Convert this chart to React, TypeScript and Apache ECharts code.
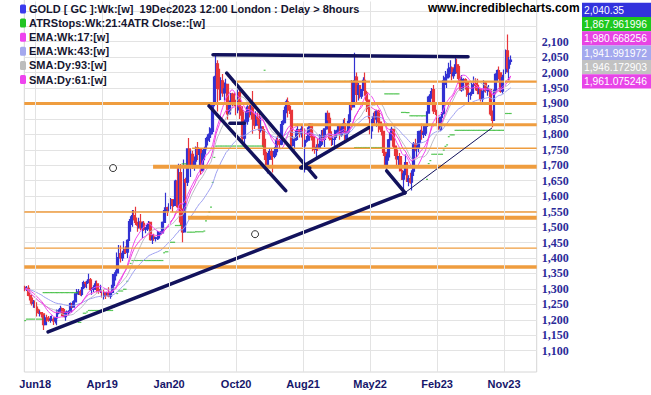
import React, { useEffect, useRef } from "react";
import * as echarts from "echarts";

// Weekly GOLD [GC] bars, week of 28 May 2018 .. week of 18 Dec 2023 : [close, high, low]
const firstOpen = 1305;
const bars2018 = [[1299,1310,1292],[1302,1309,1293],[1279,1312,1276],[1270,1282,1262],[1254,1272,1246],[1255,1264,1239],[1241,1262,1238],[1231,1247,1211],[1223,1236,1219],[1223,1230,1211],[1219,1224,1207],[1184,1220,1167],[1206,1215,1182],[1205,1216,1193],[1199,1212,1194],[1201,1212,1190],[1201,1214,1196],[1196,1208,1183],[1206,1209,1188],[1222,1233,1182],[1229,1234,1218],[1236,1245,1223],[1233,1240,1212],[1210,1238,1208],[1223,1227,1197],[1223,1230,1214],[1226,1231,1214],[1252,1256,1224],[1241,1254,1238],[1258,1263,1240],[1284,1285,1256],[1287,1300,1281]];
const bars2019 = [[1290,1300,1280],[1282,1297,1278],[1304,1306,1276],[1320,1326,1300],[1318,1324,1305],[1323,1326,1302],[1329,1349,1318],[1298,1335,1293],[1299,1302,1281],[1303,1312,1290],[1316,1326,1296],[1298,1327,1288],[1295,1300,1284],[1295,1313,1287],[1276,1295,1272],[1287,1290,1266],[1281,1290,1267],[1288,1291,1278],[1277,1305,1273],[1289,1290,1268],[1311,1313,1275],[1346,1348,1306],[1352,1360,1327],[1401,1418,1341],[1414,1442,1388],[1400,1440,1385],[1415,1423,1390],[1427,1454,1410],[1419,1438,1413],[1457,1461,1400],[1509,1520,1454],[1524,1535,1485],[1537,1555,1501],[1529,1555,1522],[1515,1566,1507],[1506,1516,1485],[1516,1530,1495],[1497,1542,1490],[1512,1518,1465],[1493,1520,1487],[1494,1500,1480],[1505,1512,1487],[1515,1520,1495],[1459,1517,1456],[1468,1475,1445],[1463,1478,1456],[1465,1469,1453],[1465,1487,1458],[1481,1486,1460],[1481,1487,1475],[1515,1518,1480],[1553,1555,1513]];
const bars2020 = [[1562,1611,1547],[1560,1566,1536],[1571,1577,1550],[1589,1594,1565],[1570,1591,1548],[1586,1588,1566],[1649,1653,1584],[1566,1691,1562],[1676,1705,1566],[1517,1704,1505],[1484,1560,1451],[1654,1719,1482],[1645,1660,1578],[1753,1755,1633],[1698,1788,1693],[1735,1747,1662],[1700,1747,1688],[1713,1728,1682],[1756,1761,1695],[1735,1775,1717],[1751,1754,1700],[1683,1756,1670],[1737,1750,1683],[1753,1760,1716],[1781,1788,1746],[1790,1800,1764],[1801,1823,1775],[1810,1820,1793],[1897,1898,1800],[1985,1990,1891],[2028,2058,1960],[1949,2040,1874],[1947,2012,1910],[1973,1985,1911],[1934,1995,1922],[1947,1968,1910],[1962,1980,1938],[1866,1964,1848],[1900,1910,1864],[1930,1934,1877],[1906,1935,1891],[1905,1935,1892],[1879,1912,1862],[1935,1945,1868],[1889,1950,1850],[1872,1898,1860],[1788,1876,1776],[1840,1848,1765],[1843,1875,1825],[1888,1894,1831],[1883,1906,1855],[1895,1900,1862]];
const bars2021 = [[1850,1940,1802],[1830,1866,1817],[1856,1875,1826],[1850,1871,1832],[1814,1875,1785],[1824,1855,1806],[1784,1826,1760],[1734,1817,1717],[1700,1744,1687],[1720,1740,1673],[1744,1755,1717],[1733,1756,1717],[1729,1740,1677],[1744,1759,1723],[1780,1790,1732],[1777,1797,1764],[1768,1785,1756],[1832,1843,1765],[1838,1846,1809],[1877,1890,1835],[1905,1913,1868],[1891,1919,1855],[1878,1903,1866],[1764,1880,1761],[1781,1795,1761],[1784,1790,1750],[1811,1818,1779],[1815,1834,1795],[1802,1816,1790],[1817,1833,1790],[1763,1832,1759],[1780,1783,1677],[1781,1795,1773],[1819,1823,1776],[1833,1836,1805],[1792,1835,1780],[1752,1810,1745],[1751,1787,1737],[1758,1768,1721],[1757,1785,1746],[1768,1800,1752],[1796,1814,1762],[1784,1815,1776],[1818,1820,1759],[1868,1870,1815],[1852,1877,1845],[1788,1860,1780],[1784,1810,1762],[1784,1795,1766],[1805,1815,1753],[1811,1815,1788],[1829,1832,1800]];
const bars2022 = [[1797,1832,1783],[1817,1830,1792],[1835,1848,1805],[1786,1853,1780],[1807,1812,1781],[1842,1865,1801],[1900,1905,1847],[1889,1976,1878],[1970,1975,1890],[1985,2064,1965],[1929,2000,1895],[1958,1966,1910],[1924,1960,1916],[1945,1947,1915],[1975,1985,1940],[1934,2000,1925],[1911,1941,1872],[1883,1909,1851],[1811,1884,1800],[1846,1850,1786],[1857,1870,1836],[1850,1875,1829],[1875,1878,1825],[1840,1880,1806],[1830,1848,1815],[1810,1835,1796],[1742,1812,1730],[1703,1745,1696],[1727,1738,1681],[1782,1785,1715],[1791,1807,1755],[1816,1825,1788],[1762,1818,1755],[1749,1768,1730],[1721,1750,1700],[1728,1730,1696],[1683,1740,1680],[1655,1690,1652],[1672,1682,1615],[1709,1735,1668],[1648,1710,1646],[1656,1668,1632],[1645,1676,1640],[1681,1684,1618],[1769,1775,1665],[1754,1786,1745],[1755,1762,1727],[1809,1812,1742],[1810,1815,1772],[1800,1834,1783],[1804,1833,1788],[1826,1833,1795]];
const bars2023 = [[1869,1875,1825],[1921,1925,1867],[1928,1940,1900],[1945,1950,1915],[1876,1960,1866],[1874,1895,1863],[1850,1880,1832],[1817,1854,1815],[1855,1858,1810],[1867,1872,1813],[1973,1990,1864],[1983,2005,1960],[1986,1996,1950],[2011,2032,1985],[2015,2040,1995],[1990,2020,1975],[1999,2012,1980],[2025,2054,1995],[2019,2045,2000],[1981,2025,1965],[1944,1987,1940],[1969,1992,1938],[1977,1982,1955],[1970,1982,1945],[1929,1975,1922],[1929,1935,1900],[1933,1938,1912],[1960,1967,1925],[1964,1987,1958],[1959,1982,1942],[1942,1980,1930],[1946,1950,1930],[1915,1948,1906],[1940,1942,1902],[1966,1975,1934],[1942,1970,1935],[1945,1955,1925],[1945,1960,1938],[1866,1948,1860],[1845,1877,1823],[1941,1945,1845],[1994,1998,1930],[2006,2010,1970],[1999,2020,1978],[1940,2000,1935],[1984,1993,1932],[2003,2010,1975],[2070,2075,1995],[2014,2123,2000],[2036,2050,1975],[2040,2055,2025]];

// axis
const slotCount = 306; // weekly slots on the time axis (bars + empty right margin)
const xTickIndex = [6, 46, 86, 126, 166, 206, 246, 286];
const xTickLabels = ["Jun18", "Apr19", "Jan20", "Oct20", "Aug21", "May22", "Feb23", "Nov23"];
const yLabelValues = [1100,1150,1200,1250,1300,1350,1400,1450,1500,1550,1600,1650,1700,1750,1800,1850,1900,1950,2000,2050,2100];
const yGridValues = [1100,1150,1200,1250,1300,1350,1400,1450,1500,1550,1600,1650,1700,1750,1800,1850,1900,1950,2000,2050,2100,2150,2200];
const yMin = 1031;
const yMax = 2230;

// indicators
const emaFast = 17;
const emaSlow = 43;
const smaDays93 = 93;
const smaDays61 = 61;
const atrPeriod = 21;
const atrMult = 4;

// horizontal support / resistance levels: [price, first week index]
const levels = [[1971, 123.5], [1900, -0.5], [1831, 160], [1755, 99.7], [1695, 76.4], [1549, -0.5], [1530, 97.2], [1432, -0.5], [1371, -0.5]];
// trend lines: [[week, price], [week, price]]
const trendLines = [
  [[112.2, 2058], [264.5, 2051]],
  [[13.7, 1161], [226.8, 1611]],
  [[120.4, 1998], [173.5, 1661]],
  [[109.8, 1892], [155.6, 1618]],
  [[122.3, 1836], [130.9, 1836]],
  [[164.7, 1693], [205.4, 1822]],
  [[164.7, 1691], [170.0, 1691]],
  [[215.9, 1682], [226.9, 1611]],
];
const thinLines = [[[226.8, 1611], [278.8, 1821]]];
const circleMarks = [[52.5, 1691], [137.3, 1477]];

// legend & value boxes
const legendTexts = [
  "GOLD [ GC ]:Wk:[w]  19Dec2023 12:00 London : Delay > 8hours",
  "ATRStops:Wk:21:4ATR Close::[w]",
  "EMA:Wk:17:[w]",
  "EMA:Wk:43:[w]",
  "SMA:Dy:93:[w]",
  "SMA:Dy:61:[w]",
];
const boxTexts = ["2,040.35", "1,867.961996", "1,980.668256", "1,941.991972", "1,946.172903", "1,961.075246"];

// styles
const colors = {
  up: "#3232d2",
  down: "#e8363b",
  stop: "#2cb82c",
  ema17: "#ee44dd",
  ema43: "#9ea0f0",
  sma93: "#bcbcc6",
  sma61: "#f04cf0",
  orange: "#ef9d3f",
  navy: "#12125c",
  grid: "#e3e3e3",
  border: "#d6d6d6",
};
const legendColors = ["#3a3aee", "#22c422", "#ee44ee", "#a4a8ee", "#bdbdbd", "#ee44ee"];
const boxColors = ["#3333dd", "#1ec81e", "#e844e4", "#a4a8ee", "#c2c2c2", "#e844e8"];
const levelWidths = [2.2, 3, 3, 1.4, 4, 1.4, 4, 1.4, 3.5];
const SANS = "Liberation Sans";

function buildOption() {
  const bars = [...bars2018, ...bars2019, ...bars2020, ...bars2021, ...bars2022, ...bars2023];
  const closes = bars.map((b) => b[0]);
  const highs = bars.map((b) => b[1]);
  const lows = bars.map((b) => b[2]);
  const opens = closes.map((c, i) => (i === 0 ? firstOpen : closes[i - 1]));
  const candleData = bars.map((b, i) => [opens[i], b[0], b[2], b[1]]);

  const ema = (src: number[], n: number) => {
    const k = 2 / (n + 1);
    let e = src[0];
    return src.map((v, i) => (i === 0 ? e : (e = v * k + e * (1 - k))));
  };
  const sma = (src: number[], n: number) =>
    src.map((_, i) => {
      const s = src.slice(Math.max(0, i - n + 1), i + 1);
      return s.reduce((a, b) => a + b, 0) / s.length;
    });

  const tr = closes.map((c, i) =>
    i === 0 ? highs[0] - lows[0] : Math.max(highs[i], closes[i - 1]) - Math.min(lows[i], closes[i - 1])
  );
  let atr = tr.slice(0, atrPeriod).reduce((a, b) => a + b, 0) / atrPeriod;
  let up = true;
  let stop = closes[0] - atrMult * atr;
  const stops: number[] = [];
  closes.forEach((c, i) => {
    if (i > 0) atr = (atr * (atrPeriod - 1) + tr[i]) / atrPeriod;
    if (up) {
      if (c < stop) { up = false; stop = c + atrMult * atr; }
      else stop = Math.max(stop, c - atrMult * atr);
    } else {
      if (c > stop) { up = true; stop = c - atrMult * atr; }
      else stop = Math.min(stop, c + atrMult * atr);
    }
    stops.push(stop);
  });

  const w93 = Math.round(smaDays93 / 5);
  const w61 = Math.round(smaDays61 / 5);
  const maLine = (data: number[], color: string) => ({
    type: "line",
    data: data.map((v) => Math.round(v * 100) / 100),
    showSymbol: false,
    symbol: "none",
    lineStyle: { color, width: 1 },
    silent: true,
  });

  const slots = Array.from({ length: slotCount }, (_, i) => String(i));

  const series: any[] = [
    {
      type: "line",
      xAxisIndex: 1,
      data: [],
      silent: true,
      markLine: {
        silent: true,
        symbol: ["none", "none"],
        label: { show: false },
        lineStyle: { color: colors.grid, width: 1, type: "solid" },
        data: xTickIndex.map((i) => ({ xAxis: i })),
      },
    },
    {
      type: "candlestick",
      data: candleData,
      barWidth: 2.3,
      itemStyle: { color: colors.up, color0: colors.down, borderColor: colors.up, borderColor0: colors.down, borderWidth: 1.2 },
      silent: true,
    },
    maLine(sma(closes, w93), colors.sma93),
    maLine(ema(closes, emaSlow), colors.ema43),
    maLine(sma(closes, w61), colors.sma61),
    maLine(ema(closes, emaFast), colors.ema17),
    ...levels.map((l, i) => ({
      type: "line",
      xAxisIndex: 1,
      data: [[l[1], l[0]], [slotCount - 0.5, l[0]]],
      showSymbol: false,
      symbol: "none",
      lineStyle: { color: colors.orange, width: levelWidths[i] },
      silent: true,
    })),
    {
      type: "scatter",
      xAxisIndex: 1,
      data: stops.map((v, i) => [i, Math.round(v * 100) / 100]),
      symbol: "rect",
      symbolSize: [1.9, 1.2],
      itemStyle: { color: colors.stop },
      silent: true,
    },
    ...trendLines.map((ln) => ({
      type: "line",
      xAxisIndex: 1,
      data: ln,
      showSymbol: false,
      symbol: "none",
      lineStyle: { color: colors.navy, width: 3.5, cap: "round" },
      silent: true,
    })),
    ...thinLines.map((ln) => ({
      type: "line",
      xAxisIndex: 1,
      data: ln,
      showSymbol: false,
      symbol: "none",
      lineStyle: { color: colors.navy, width: 1 },
      silent: true,
    })),
    {
      type: "scatter",
      xAxisIndex: 1,
      data: circleMarks,
      symbol: "circle",
      symbolSize: 7,
      itemStyle: { color: "#ffffff", borderColor: "#000000", borderWidth: 1 },
      silent: true,
    },
  ];

  const left = 24.3, right = 536.7, bottom = 372;
  const graphic: any[] = [
    { type: "line", shape: { x1: left, y1: 0, x2: left, y2: bottom }, style: { stroke: colors.border, lineWidth: 1 } },
    { type: "line", shape: { x1: left, y1: bottom, x2: right, y2: bottom }, style: { stroke: colors.border, lineWidth: 1 } },
    { type: "line", shape: { x1: right, y1: 0, x2: right, y2: bottom }, style: { stroke: colors.border, lineWidth: 1 } },
    ...legendTexts.map((_, i) => ({
      type: "rect",
      z: 100,
      shape: { x: 20, y: 4.5 + i * 14.1, width: 6, height: 9, r: 1.5 },
      style: { fill: legendColors[i] },
    })),
    ...legendTexts.map((t, i) => ({
      type: "text",
      z: 100,
      x: 29,
      y: 9 + i * 14.1,
      style: { text: t, fill: "#161630", fontFamily: SANS, fontWeight: "bold", fontSize: 11, verticalAlign: "middle" },
    })),
    {
      type: "text",
      z: 100,
      x: 428,
      y: 8,
      style: { text: "www.incrediblecharts.com", fill: "#000000", fontFamily: SANS, fontWeight: "bold", fontSize: 12, verticalAlign: "middle" },
    },
    ...boxTexts.map((_, i) => ({
      type: "rect",
      z: 100,
      shape: { x: 582, y: 2.7 + i * 14.3, width: 70, height: 14.3 },
      style: { fill: boxColors[i] },
    })),
    ...boxTexts.map((t, i) => ({
      type: "text",
      z: 101,
      x: 584,
      y: 2.7 + i * 14.3 + 7.4,
      style: { text: t, fill: "#ffffff", fontFamily: SANS, fontSize: 10.3, verticalAlign: "middle" },
    })),
  ];

  return {
    animation: false,
    backgroundColor: "#ffffff",
    grid: { left: left, right: 651 - right, top: 1.5, bottom: 395 - bottom, outerBoundsMode: "none", containLabel: false },
    xAxis: [
      {
        type: "category",
        data: slots,
        boundaryGap: true,
        axisLine: { show: false },
        axisTick: { show: false },
        splitLine: { show: false },
        axisLabel: {
          interval: (i: number) => xTickIndex.indexOf(i) >= 0,
          formatter: (v: string) => {
            const k = xTickIndex.indexOf(Number(v));
            return k >= 0 ? xTickLabels[k] : "";
          },
          color: "#16166a",
          fontFamily: SANS,
          fontWeight: "bold",
          fontSize: 11,
          margin: 6,
        },
      },
      { type: "value", min: -0.5, max: slotCount - 0.5, show: false, splitLine: { show: false } },
    ],
    yAxis: {
      type: "value",
      position: "right",
      min: yMin,
      max: yMax,
      axisLine: { show: false },
      axisTick: { show: false, customValues: yGridValues },
      axisLabel: {
        customValues: yLabelValues,
        formatter: (v: number) => v.toLocaleString("en-US"),
        color: "#2b2b99",
        fontFamily: "Liberation Serif",
        fontWeight: "bold",
        fontSize: 12,
        margin: 5,
      },
      splitLine: { show: true, lineStyle: { color: colors.grid, width: 1 } },
    },
    series,
    graphic,
  };
}

export default function App() {
  const ref = useRef<HTMLDivElement>(null);
  useEffect(() => {
    const chart = echarts.init(ref.current!, null, { renderer: "svg" });
    chart.setOption(buildOption() as any);
    return () => chart.dispose();
  }, []);
  return (
    <div
      ref={ref}
      style={{ position: "absolute", left: 0, top: 0, width: 651, height: 395, background: "#ffffff" }}
    />
  );
}
